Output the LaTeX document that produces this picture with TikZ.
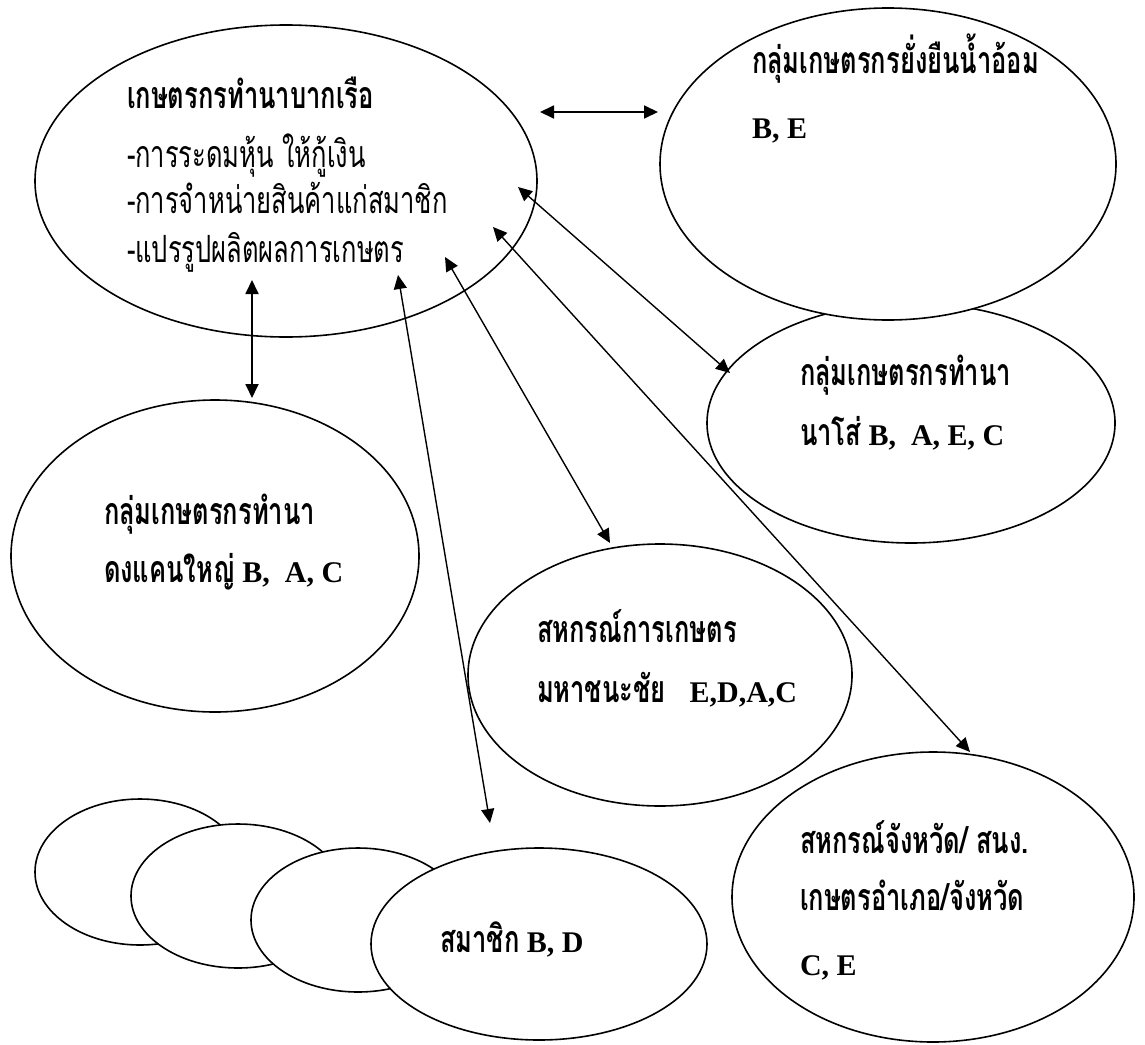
\documentclass[tikz,border=0pt]{standalone}
\usepackage{fontspec}
\setmainfont{Liberation Serif}
\newfontfamily\thaifont[Script=Thai,Scale=1.25,FakeStretch=0.68]{Loma}
\usetikzlibrary{shapes.geometric,arrows.meta}
\newcommand{\thaitxt}[1]{{\thaifont #1}}

\begin{document}
\begin{tikzpicture}[x=0.5pt,y=-0.5pt]
\tikzstyle{every node}+=[inner sep=0pt,outer sep=0pt]
\tikzstyle{bubble}=[draw=black,line width=0.8pt,ellipse,fill=white]
\tikzstyle{lbl}=[anchor=base west,font=\fontsize{15}{18}\selectfont\bfseries]
\tikzstyle{item}=[anchor=base west,font=\fontsize{15}{18}\selectfont]
\tikzstyle{link}=[{Triangle[length=7pt,width=6.5pt]}-{Triangle[length=7pt,width=6.5pt]},line width=0.7pt]
\useasboundingbox (0,0) rectangle (1145,1044);
% groups
\node [bubble,minimum width=251pt,minimum height=156pt] (main) at (286,181) {};
\node [bubble,minimum width=204pt,minimum height=120pt] (naso) at (911,423) {};
\node [bubble,minimum width=228pt,minimum height=156pt] (yangyuen) at (888,164) {};
\node [bubble,minimum width=204pt,minimum height=156pt] (dong) at (215,556) {};
\node [bubble,minimum width=192pt,minimum height=131pt] (maha) at (660,675) {};
\node [bubble,minimum width=201pt,minimum height=145pt] (province) at (933,897) {};
% members
\node [bubble,minimum width=105pt,minimum height=73pt] (mem1) at (140,872) {};
\node [bubble,minimum width=107pt,minimum height=72pt] (mem2) at (238,896) {};
\node [bubble,minimum width=107pt,minimum height=72pt] (mem3) at (358,920) {};
\node [bubble,minimum width=168pt,minimum height=96pt] (mem4) at (539,944) {};
% texts
\node [lbl] (mainTitle) at (127,108) {\thaitxt{เกษตรกรทำนาบากเรือ}};
\node [item] (mainA) at (127,167) {\thaitxt{-การระดมหุ้น ให้กู้เงิน}};
\node [item] (mainB) at (127,213) {\thaitxt{-การจำหน่ายสินค้าแก่สมาชิก}};
\node [item] (mainC) at (127,262) {\thaitxt{-แปรรูปผลิตผลการเกษตร}};
\node [lbl] (yangyuenA) at (752,73) {\thaitxt{กลุ่มเกษตรกรยั่งยืนน้ำอ้อม}};
\node [lbl] (yangyuenB) at (752,138) {B, E};
\node [lbl] (nasoA) at (800,385) {\thaitxt{กลุ่มเกษตรกรทำนา}};
\node [lbl] (nasoB) at (800,445) {\thaitxt{นาโส่} B,\ \ A, E, C};
\node [lbl] (dongA) at (104,524) {\thaitxt{กลุ่มเกษตรกรทำนา}};
\node [lbl] (dongB) at (104,582) {\thaitxt{ดงแคนใหญ่} B,\ \ A, C};
\node [lbl] (mahaA) at (537,642) {\thaitxt{สหกรณ์การเกษตร}};
\node [lbl] (mahaB) at (537,702) {\thaitxt{มหาชนะชัย}\hspace{12pt}E,D,A,C};
\node [lbl] (provinceA) at (800,853) {\thaitxt{สหกรณ์จังหวัด/ สนง.}};
\node [lbl] (provinceB) at (800,910) {\thaitxt{เกษตรอำเภอ/จังหวัด}};
\node [lbl] (provinceC) at (800,975) {C, E};
\node [lbl] (memText) at (440,952) {\thaitxt{สมาชิก} B, D};
% arrow ends
\coordinate (mainE) at (540,112);
\coordinate (yangyuenW) at (658,112);
\coordinate (mainS) at (252,280);
\coordinate (dongN) at (252,398);
\coordinate (mainNaso) at (518,187);
\coordinate (nasoNW) at (730,373);
\coordinate (mainProv) at (493,227);
\coordinate (provinceN) at (970,752);
\coordinate (mainMaha) at (445,257);
\coordinate (mahaN) at (610,543);
\coordinate (mainMem) at (398,275);
\coordinate (memN) at (490,823);
\draw [link,line width=0.9pt] (mainE) -- (yangyuenW);
\draw [link,line width=0.9pt] (mainS) -- (dongN);
\draw [link] (mainNaso) -- (nasoNW);
\draw [link] (mainProv) -- (provinceN);
\draw [link] (mainMaha) -- (mahaN);
\draw [link] (mainMem) -- (memN);
\end{tikzpicture}
\end{document}
